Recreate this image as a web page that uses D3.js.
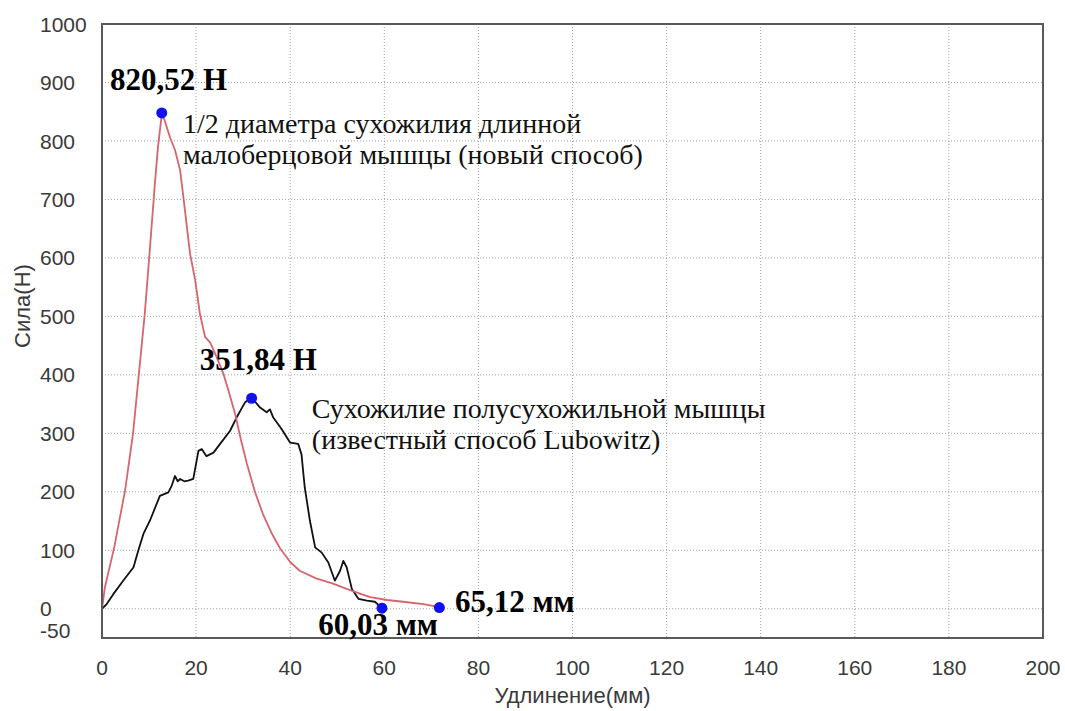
<!DOCTYPE html>
<head>
    <meta charset="utf-8">
    <title>Сила / Удлинение</title>
    <script src="https://cdn.jsdelivr.net/npm/d3@7"></script>
</head>
<style>
    body { margin: 0; background: #fff; }
    .tick-label { font-family: 'Liberation Sans', Arial, sans-serif; font-size: 21px; fill: #3a3a3a; }
    .axis-title { font-family: 'Liberation Sans', Arial, sans-serif; font-size: 22px; fill: #3a3a3a; }
    .grid line { stroke: #a0a0a0; stroke-width: 1; stroke-dasharray: 1,2; }
    .note { font-family: 'Liberation Serif', 'Times New Roman', serif; font-size: 28px; fill: #111; }
    .value { font-family: 'Liberation Serif', 'Times New Roman', serif; font-size: 31px; font-weight: bold; fill: #000; }
</style>
<body>
    <svg></svg>
</body>

<script>
    var vWidth = 1065;
    var vHeight = 711;

    // ticks
    var xTicks = [0, 20, 40, 60, 80, 100, 120, 140, 160, 180, 200];
    var yTicks = [-50, 0, 100, 200, 300, 400, 500, 600, 700, 800, 900, 1000];

    // new method (red): elongation mm, force N
    var newX = [0, 0.6, 2.6, 4.9, 6.6, 7.7, 9.1, 10.2, 11.3, 11.9, 12.7, 13.2, 14.5, 15.5, 16.6, 17.3,
        18.7, 19.8, 20.8, 21.9, 23, 24.4, 25.8, 27, 28.3, 29.5, 30.8, 32.5, 34.2, 36, 37.8, 40, 42,
        45.5, 49.1, 52, 54.8, 57, 60.6, 64, 68.3, 70.3, 71.7];
    var newY = [0, 36, 105, 202, 300, 390, 505, 618, 733, 790, 845, 838, 805, 785, 750, 704,
        608, 562, 505, 465, 455, 430, 402, 370, 333, 290, 248, 200, 162, 130, 104, 80, 65,
        52, 43, 34, 26, 20, 15, 12, 8, 5, 2];

    // Lubowitz method (black)
    var oldX = [0, 1, 2.4, 4.5, 6.7, 7.7, 8.8, 10.2, 12.3, 14.1, 14.8, 15.5, 16.1, 16.6, 17.5, 18.3,
        19.4, 20.5, 21.2, 22.2, 23.7, 25.1, 27.2, 28.6, 30.4, 31.8, 33.6, 35, 35.7, 36.4, 38.2, 40,
        41.7, 42.4, 43.1, 44.2, 45.3, 46.7, 48.1, 49.5, 50.6, 51.3, 52, 53.1, 54.5, 56.3, 58, 59.4];
    var oldY = [0, 8, 25, 48, 71, 99, 128, 151, 193, 199, 210, 227, 218, 222, 218, 219,
        222, 270, 273, 261, 267, 282, 304, 327, 353, 361, 344, 336, 341, 327, 307, 284,
        282, 264, 207, 150, 105, 96, 79, 48, 65, 82, 71, 34, 17, 14, 12, 2];

    // marked points
    var markX = [12.7, 31.8, 59.5, 71.7];
    var markY = [848, 360, 1, 2];

    // texts: lines, x, y (data units of first baseline), class, anchor
    var notes = [
        [['820,52 Н'], 1.7, 887, 'value', 'start'],
        [['1/2 диаметра сухожилия длинной', 'малоберцовой мышцы (новый способ)'], 17.2, 813, 'note', 'start'],
        [['351,84 Н'], 20.8, 408, 'value', 'start'],
        [['Сухожилие полусухожильной мышцы', '(известный способ Lubowitz)'], 44.6, 326, 'note', 'start'],
        [['60,03 мм'], 71.4, -45, 'value', 'end'],
        [['65,12 мм'], 75.0, -6, 'value', 'start']
    ];

    var svg = d3.select('svg')
        .attr('width', vWidth)
        .attr('height', vHeight);

    var x = d3.scaleLinear().domain([0, 200]).range([102, 1043]);
    var y = d3.scaleLinear().domain([-50, 1000]).range([638, 24]);

    // grid
    var grid = svg.append('g').attr('class', 'grid');
    grid.selectAll('.gx')
        .data(xTicks.filter(function (d) { return d > 0 && d < 200; }))
        .enter().append('line')
        .attr('x1', function (d) { return x(d); })
        .attr('x2', function (d) { return x(d); })
        .attr('y1', y(1000)).attr('y2', y(-50));
    grid.selectAll('.gy')
        .data(yTicks.filter(function (d) { return d >= 0 && d < 1000; }))
        .enter().append('line')
        .attr('y1', function (d) { return y(d); })
        .attr('y2', function (d) { return y(d); })
        .attr('x1', x(0)).attr('x2', x(200));

    // tick labels
    svg.selectAll('.xl')
        .data(xTicks)
        .enter().append('text')
        .attr('class', 'tick-label')
        .attr('x', function (d) { return x(d); })
        .attr('y', 675)
        .attr('text-anchor', 'middle')
        .text(function (d) { return d; });

    svg.selectAll('.yl')
        .data(yTicks)
        .enter().append('text')
        .attr('class', 'tick-label')
        .attr('x', 40)
        .attr('y', function (d) { return d === -50 ? y(d) - 8 : y(d); })
        .attr('dy', '0.36em')
        .text(function (d) { return d; });

    svg.append('text')
        .attr('class', 'axis-title')
        .attr('x', x(100))
        .attr('y', 703)
        .attr('text-anchor', 'middle')
        .text('Удлинение(мм)');

    svg.append('text')
        .attr('class', 'axis-title')
        .attr('transform', 'translate(30,306) rotate(-90)')
        .attr('text-anchor', 'middle')
        .text('Сила(Н)');

    // curves
    var line = d3.line()
        .x(function (d) { return x(d[0]); })
        .y(function (d) { return y(d[1]); });

    svg.append('path')
        .datum(d3.zip(oldX, oldY))
        .attr('d', line)
        .attr('fill', 'none')
        .attr('stroke', '#111')
        .attr('stroke-width', 1.8)
        .attr('stroke-linejoin', 'round');

    svg.append('path')
        .datum(d3.zip(newX, newY))
        .attr('d', line)
        .attr('fill', 'none')
        .attr('stroke', '#d8646f')
        .attr('stroke-width', 1.8)
        .attr('stroke-linejoin', 'round');

    // frame
    svg.append('rect')
        .attr('x', x(0)).attr('y', y(1000))
        .attr('width', x(200) - x(0))
        .attr('height', y(-50) - y(1000))
        .attr('fill', 'none')
        .attr('stroke', '#5a5a5a')
        .attr('stroke-width', 2);

    // points
    svg.selectAll('.mark')
        .data(d3.zip(markX, markY))
        .enter().append('circle')
        .attr('cx', function (d) { return x(d[0]); })
        .attr('cy', function (d) { return y(d[1]); })
        .attr('r', 5.5)
        .attr('fill', '#1010f0');

    // annotations, multi-line ones as tspans
    svg.selectAll('.ann')
        .data(notes)
        .enter().append('text')
        .attr('class', function (d) { return d[3]; })
        .attr('y', function (d) { return y(d[2]); })
        .attr('text-anchor', function (d) { return d[4]; })
        .each(function (d) {
            var t = d3.select(this);
            d[0].forEach(function (s, i) {
                t.append('tspan')
                    .attr('x', x(d[1]))
                    .attr('dy', i ? 31 : 0)
                    .text(s);
            });
        });
</script>
